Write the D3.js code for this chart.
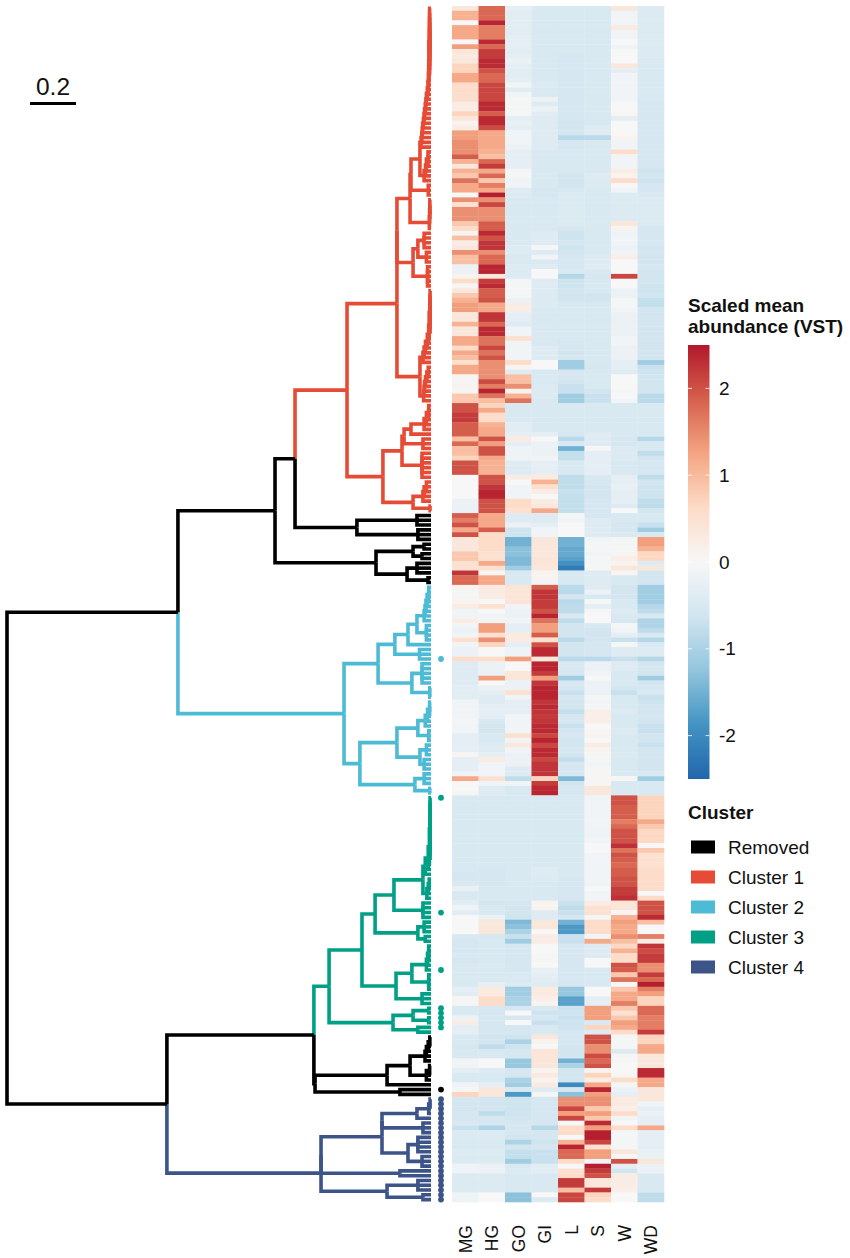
<!DOCTYPE html>
<html><head><meta charset="utf-8">
<script src="https://cdn.jsdelivr.net/npm/d3@7"></script>
<style>html,body{margin:0;padding:0;background:#fff}svg{display:block}text{font-family:"Liberation Sans",Arial,sans-serif;fill:#111}</style>
</head><body><svg id="c" width="850" height="1258"></svg>
<script>
const columns=["MG","HG","GO","GI","L","S","W","WD"];
const MG=[
.35,1.1,1.1,0,1.2,1.2,1.2,0,1.3,.35,
.3,.35,.7,.7,1.2,1.2,.6,.6,.55,.55,
.25,.25,.7,.35,.1,.25,1.3,1.3,1.45,1.45,
1.45,1.9,1.1,.35,1.1,.85,1.7,1.2,1.2,0,
1.45,.5,1.45,1.45,1.45,.85,.6,.1,.95,.25,
.35,1.45,.95,.95,-.2,-.2,.1,.6,.05,.35,
.85,1.1,1.3,1.3,.35,.35,1.1,.35,.35,1.2,
1.2,.6,1.2,.95,.5,1.2,1.2,.05,.05,.1,
.05,.85,.85,2,2,2.2,2.2,1.9,1.9,1.9,
.95,1.8,.95,.95,.7,2,2,2,0,0,
0,0,0,-.2,-.2,-.2,1.9,1.6,2,1.2,
2,.35,.35,.35,.85,.85,.5,.5,2.25,1.8,
1.8,.1,-.05,-.05,.1,.25,-.1,-.1,.25,-.1,
-.2,-.1,.5,-.1,-.2,-.2,.6,-.4,-.4,-.4,
-.4,-.4,-.35,-.35,-.35,-.1,-.1,-.1,-.1,-.05,
-.1,-.1,-.3,-.3,-.3,-.3,.05,-.3,-.3,-.3,
-.1,1.2,0,0,.05,-.5,-.5,-.5,-.5,-.5,
-.5,-.5,-.5,-.5,-.5,-.5,-.5,-.5,-.5,-.5,
-.5,-.55,-.55,-.5,-.25,-.5,-.5,-.35,-.15,-.35,
0,0,0,0,-.5,-.55,-.55,-.55,-.5,-.55,
-.5,-.5,-.5,-.5,-.5,-.3,-.35,.05,.05,-.5,
-.5,-.2,.25,-.3,-.3,-.5,-.5,-.55,-.5,-.5,
-.1,-.1,-.3,-.5,-.5,-.1,-.05,.7,-.55,-.6,
-.6,-.55,-.55,-.5,-.7,-.45,-.45,-.5,-.5,-.45,
-.45,-.45,-.15,-.15,-.45,-.45,-.45,-.45,-.15,-.15];
const HG=[
1.8,1.8,1.8,2.4,1.6,1.6,1.6,2.35,1.8,2.2,
2.2,2.35,2.35,2,1.8,1.8,2.1,2.1,2.1,2.1,
2.35,2.35,1.9,2.35,2.35,2.05,1.2,1.2,1.2,1.2,
1.1,.95,1.8,2.2,1.2,1.8,.85,1.6,1.2,2.45,
1.45,2.1,1.45,1.45,1.45,1.9,1.9,2.35,2,2.25,
2.25,1.45,1.8,1.8,2.4,2.4,.35,2.2,2.35,1.9,
1.9,2,1.2,1.2,2.25,2.25,1.8,2.35,2.35,1.7,
1.7,2.1,1.7,2,1.45,1.45,1.45,1.45,2.05,1.6,
2.4,1.7,.95,.7,1.2,.6,.6,1.1,1.2,1.2,
2,1.3,2,2,1.2,1.1,1.1,1.1,2,2,
2.25,2.4,2.4,2,2,2,1.2,1.2,1.2,1.9,
.6,.6,.6,.6,.5,.5,1.2,.5,.05,1.2,
1.2,.3,.25,.25,0,.5,0,-.1,-.1,1.3,
1.3,.5,1.45,.7,0,0,.6,-.2,-.2,-.2,
1.3,0,-.2,-.3,-.4,-.4,-.3,-.3,-.3,-.5,
-.6,-.6,-.5,-.5,-.4,-.4,-.3,.3,-.1,-.1,
-.1,.5,-.1,-.4,-.4,-.5,-.5,-.5,-.5,-.5,
-.5,-.5,-.5,-.5,-.5,-.5,-.5,-.5,-.5,-.5,
-.55,-.55,-.55,-.55,-.5,-.5,-.5,-.6,-.5,-.5,
-.2,.35,.35,.35,-.55,-.5,-.5,-.5,-.5,-.5,
-.45,-.5,-.5,-.5,-.3,.3,.3,.6,.6,-.55,
-.55,-.55,-.55,-.55,-.55,-.6,-.6,-.8,-.5,-.5,
0,0,-.4,-.5,-.5,-.3,.35,.35,-.6,-.6,
-.6,-.8,-.55,-.55,-.95,-.45,-.45,-.5,-.5,-.45,
-.45,-.45,-.2,-.2,-.45,-.45,-.45,-.45,0,0];
const GO=[
-.3,-.35,-.35,-.35,-.35,-.35,-.3,-.3,-.3,-.35,
-.3,-.2,-.3,-.35,-.35,-.3,-.1,-.35,-.1,-.05,
-.05,-.05,-.05,-.3,-.25,-.3,-.1,-.1,-.1,-.2,
-.3,-.3,-.3,-.3,-.05,-.05,-.15,-.1,-.4,-.45,
-.5,-.5,-.5,-.5,-.5,-.5,-.5,-.5,-.5,-.5,
-.4,-.4,-.5,-.5,-.45,-.45,-.45,-.05,-.05,-.05,
-.05,-.2,.25,.25,-.3,-.3,-.4,-.1,-.1,.5,
-.1,-.1,-.1,-.1,.6,.1,-.4,.95,.95,1.45,
.1,1.1,1.7,-.5,-.5,-.5,-.5,-.35,-.35,-.3,
.3,-.3,-.15,-.15,-.15,-.4,-.4,-.4,.25,0,
-.1,-.1,-.1,.6,.6,.5,-.4,-.4,-.2,-.65,
-.65,-1.5,-1.5,-1.3,-1.3,-1.4,-1.4,-1.1,-.5,-.5,
-.5,.4,.4,.4,.4,-.1,-.2,-.2,-.1,-.3,
-.3,.3,.3,-.3,-.15,-.15,1.3,0,0,.35,
.35,-.2,-.2,.5,-.1,-.3,-.3,-.3,-.1,-.1,
-.1,-.1,.5,-.1,.35,-.1,-.2,-.2,-.2,-.4,
-.4,-.8,-.1,-.5,-.5,-.5,-.5,-.5,-.5,-.5,
-.5,-.5,-.5,-.5,-.5,-.5,-.5,-.5,-.5,-.5,
-.5,-.5,-.5,-.5,-.5,-.5,-.5,-.55,-.6,-.6,
-.65,-1.4,-1.3,-1,-.7,-1.1,-.55,-.55,-.55,-.55,
-.55,-.55,-.5,-.5,-.45,-1.1,-1.1,-1,-1,-.55,
0,-.55,0,-.55,-.55,-.65,-1,-.65,-.55,-.55,
-1.2,-1.2,-.55,-.55,-1,-1.1,-.5,-1.8,-.65,-.65,
-.65,-.65,-.6,-.55,-.55,-.55,-.6,-1,-.6,-.75,
-.75,-1.1,-.5,-.45,-.5,-.5,-.5,-.5,-1.3,-1.3];
const GI=[
-.5,-.5,-.5,-.5,-.5,-.5,-.5,-.5,-.5,-.5,
-.5,-.5,-.5,-.5,-.5,-.5,-.45,-.5,-.5,-.2,
-.4,-.2,-.35,-.4,-.4,-.4,-.4,-.4,-.4,-.45,
-.5,-.5,-.5,-.5,-.5,-.5,-.5,-.5,-.55,-.55,
-.5,-.5,-.5,-.5,-.5,-.5,-.5,-.4,-.4,-.4,
-.05,-.4,-.1,-.5,-.4,0,0,-.4,-.4,-.4,
-.45,-.45,-.45,-.5,-.5,-.5,-.5,-.5,-.5,-.5,
-.5,-.4,-.4,-.4,0,0,-.5,-.5,-.5,-.45,
-.45,-.45,-.5,-.5,-.5,-.5,-.5,-.5,-.5,-.3,
0,-.2,-.2,-.2,-.1,-.3,-.3,-.3,.3,1.1,
.55,.25,0,.25,.35,1.2,-.4,-.4,-.3,-.1,
-.1,.35,.35,.35,.35,.4,.4,.35,.1,.1,
-.1,1.9,2.25,2.25,2.2,2.2,2,2.4,1.7,1.3,
1.3,1.9,.5,2,2.35,2.35,.35,2.4,2.4,2.2,
1.3,2.25,2.4,2.4,2.4,2.25,2.35,2.25,2.2,2.25,
2.35,2.35,2.1,2.4,2.1,2.35,2.35,2.1,2.25,2.25,
2.25,.7,2.2,2.35,2.4,-.5,-.5,-.5,-.5,-.5,
-.5,-.5,-.5,-.5,-.5,-.5,-.5,-.5,-.5,-.5,
-.4,-.4,-.45,-.5,-.5,-.5,-.5,.1,.1,-.4,
-.4,.35,.35,0,.25,.25,0,0,.05,.05,
0,-.25,-.3,-.35,-.4,.3,.3,.2,.1,-.5,
-.65,-.55,-.7,-.5,-.5,.35,.1,0,.4,.4,
.4,.35,.1,.3,.1,.3,-.4,-.05,-.55,-.55,
-.55,-.55,-.55,-.55,-.9,-.55,-.55,-.65,-.55,-.7,
-.7,-.7,-.35,-.35,-.5,-.5,-.5,-.5,0,-.45];
const L=[
-.5,-.5,-.5,-.5,-.5,-.5,-.5,-.5,-.5,-.5,
-.55,-.55,-.55,-.55,-.55,-.55,-.55,-.55,-.55,-.55,
-.55,-.55,-.55,-.55,-.6,-.6,-.6,-.85,-.55,-.55,
-.5,-.5,-.5,-.5,-.5,-.6,-.6,-.6,-.5,-.45,
-.45,-.45,-.45,-.45,-.45,-.45,-.55,-.65,-.65,-.55,
-.65,-.6,-.55,-.55,-.55,-.5,-.9,-.65,-.65,-.6,
-.6,-.6,-.5,-.5,-.5,-.5,-.5,-.5,-.5,-.5,
-.55,-.55,-.6,-.55,-1.1,-1.1,-.55,-.55,-.6,-.7,
-.7,-1.1,-1.1,-.5,-.5,-.5,-.5,-.5,-.5,-.55,
-.85,-.5,-1.5,-.75,-.75,-.5,-.5,-.5,-.8,-.8,
-.8,-.7,-.75,-.75,-.75,-.75,-.05,-.1,0,0,
0,-1.5,-1.5,-1.6,-1.6,-1.7,-1.9,-2.2,-.5,-.5,
-.5,-.85,-.85,-.6,-.85,-.8,-.8,-.5,-.8,-.6,
-.6,-.6,-.85,-.6,-.6,-.6,-.85,-.5,-.5,-.55,
-1.1,-.55,-.55,-.7,-.55,-.6,-.6,-.75,-.55,-.55,
-.7,-.6,-.55,-.6,-.6,-.55,-.6,-.75,-.55,-.55,
-.55,-1.4,-.6,-.55,-.55,-.5,-.5,-.5,-.5,-.5,
-.5,-.5,-.5,-.5,-.5,-.5,-.5,-.5,-.5,-.5,
-.5,-.5,-.55,-.55,-.55,-.55,-.55,-.7,-.8,-.7,
-.55,-1.5,-1.8,-1.8,-.7,-.7,-.55,-.55,-.55,-.55,
-.55,-.55,-.55,-.55,-.55,-1.2,-1.2,-1.7,-1.7,-.65,
-.65,-.7,-.65,-.65,-.55,-.55,-.55,-.6,-.6,-.6,
-1.5,-1,-.6,-.6,-.6,-2,-.55,-1.3,1.45,1.45,
2.1,1.3,2.1,0,.6,.6,0,1.1,2.4,1.8,
1.8,.6,0,.5,.6,2.2,2.2,.95,2.1,2.1];
const S=[
-.5,-.5,-.5,-.5,-.5,-.5,-.5,-.5,-.5,-.5,
-.5,-.5,-.5,-.5,-.5,-.5,-.5,-.5,-.5,-.5,
-.5,-.5,-.5,-.5,-.5,-.4,-.4,-.85,-.5,-.5,
-.5,-.5,-.5,-.5,-.5,-.4,-.45,-.45,-.5,-.5,
-.5,-.5,-.5,-.5,-.5,-.5,-.5,-.5,-.5,-.5,
-.5,-.5,-.4,-.4,-.35,-.5,-.55,-.5,-.5,-.5,
-.6,-.6,-.5,-.5,-.5,-.5,-.5,-.5,-.5,-.5,
-.5,-.5,-.5,-.5,-.5,-.55,-.5,-.5,-.5,-.5,
-.6,-.7,-.7,-.5,-.5,-.5,-.5,-.5,-.5,-.4,
-.4,-.4,-.05,-.3,-.3,-.3,-.3,-.3,-.5,-.55,
-.6,-.6,-.6,-.55,-.55,-.55,-.55,-.4,-.4,-.4,
-.4,-.1,-.05,-.05,-.1,-.05,-.05,-.05,-.4,-.4,
-.4,-.4,-.2,-.5,-.05,-.3,-.05,0,0,-.5,
-.6,-.6,-.6,-.55,-.55,-.55,-.85,-.2,-.2,-.1,
0,-.2,-.2,-.2,-.05,-.1,-.05,.2,.2,.2,
0,.05,.1,0,.25,.1,.05,-.05,-.1,-.05,
.05,.05,.05,.35,.35,-.1,-.1,-.1,-.1,-.1,
-.1,-.1,-.15,-.15,-.1,0,0,-.1,-.1,-.1,
-.1,-.1,-.1,-.15,0,-.1,-.1,.25,.5,.5,
-.05,.6,.6,.6,-.1,1.2,-.4,-.4,-.4,0,
0,-.5,-.5,-.5,-.5,0,0,-.3,-.3,1.3,
1.3,1.3,-.5,.7,-.4,2,2,1.45,1.45,2.05,
1.8,2,.1,.7,.25,1.2,2.4,1.3,1.45,1.45,
.85,1.3,.85,2.35,1.3,2.45,2.45,2.1,.5,1.3,
1.3,-.1,2.45,2.2,2,.35,.35,2.2,.7,.6];
const W=[
.35,-.1,-.1,-.1,.3,-.1,-.1,0,-.1,0,
0,0,.35,-.3,-.1,-.1,-.1,-.1,-.1,-.1,
0,0,.05,-.3,0,0,0,.1,-.1,-.1,
.6,-.1,-.1,-.1,.25,.1,.6,0,-.1,-.45,
-.45,-.45,-.45,-.45,-.45,.35,.1,-.15,-.1,-.1,
-.2,-.1,.2,0,0,0,2.1,0,0,-.2,
-.2,-.05,-.05,-.1,-.2,-.2,-.2,-.2,-.2,-.1,
-.1,-.2,-.2,-.2,-.3,-.3,-.4,0,0,0,
-.05,0,-.1,-.5,-.5,-.5,-.5,-.5,-.5,-.5,
-.55,-.55,-.45,-.45,-.45,-.5,-.5,-.5,-.3,-.3,
-.25,-.3,-.3,-.3,-.4,0,-.5,-.5,-.55,-.55,
-.5,-.05,-.05,-.05,.05,.2,.1,.35,.05,-.5,
-.5,-.6,-.6,-.6,-.5,-.5,-.4,-.5,-.55,-.05,
-.1,-.3,-.7,-.05,-.4,-.4,-.7,-.4,-.4,-.5,
-.5,-.5,-.6,-.7,-.5,-.5,-.5,-.45,-.5,-.5,
-.5,-.45,-.5,-.5,-.5,-.5,-.45,-.5,-.5,-.5,
-.5,.05,-.5,-.5,-.5,2,2,1.9,1.9,1.9,
1.6,1.8,2,2,2,2.3,1.7,2,1.9,1.8,
1.9,1.9,2,2,2.2,2.2,2.3,.4,.4,.05,
1.1,1.3,1.2,1.2,1.45,.95,.65,1.1,.6,.6,
2,1.9,.85,1.7,0,.85,1.2,1.2,1.6,.85,
.5,.85,1.3,1.2,.6,-.05,-.05,-.05,-.45,-.05,
-.05,0,0,.05,.6,-.05,-.2,-.3,.3,.3,
.2,.6,-.1,0,.6,-.05,-.05,-.05,-.05,.35,
-.05,2,-.3,-.6,.25,.25,.25,.2,0,0];
const WD=[
-.45,-.45,-.45,-.45,-.45,-.45,-.45,-.45,-.45,-.45,
-.45,-.5,-.5,-.5,-.5,-.5,-.5,-.5,-.5,-.5,
-.55,-.55,-.55,-.55,-.55,-.55,-.55,-.55,-.55,-.55,
-.55,-.55,-.55,-.55,-.65,-.6,-.65,-.55,-.55,-.5,
-.45,-.45,-.45,-.45,-.45,-.45,-.55,-.55,-.55,-.55,
-.6,-.55,-.6,-.6,-.55,-.6,-.6,-.6,-.65,-.65,
-.6,-.75,-.75,-.6,-.6,-.6,-.6,-.6,-.6,-.6,
-.6,-.6,-.6,-.6,-1.1,-.7,-.65,-.6,-.6,-.6,
-.6,-.85,-.85,-.5,-.5,-.5,-.5,-.5,-.5,-.5,
-.9,-.5,-.5,-.8,-.6,-.55,-.55,-.55,-.8,-.6,
-.65,-.65,-.65,-.8,-.8,-.6,-.5,-.5,-.7,-1.1,
-.5,1.3,1.3,1.1,.65,.65,-.4,.35,-.6,-.6,
-.6,-1.1,-1.1,-1.1,-1.1,-.9,-.8,-.5,-.95,-.95,
-.8,-.5,-.9,-.5,-.4,-.4,-.9,-.6,-.55,-.6,
-1.1,-.6,-.55,-.5,-.7,-.65,-.6,-.6,-.55,-.6,
-.7,-.7,-.6,-.6,-.7,-.6,-.6,-.6,-.6,-.6,
-.5,-1.1,-.5,-.5,-.5,.7,.7,.7,.7,.7,
1.2,.85,.65,.65,.65,0,.85,.5,.5,.5,
.6,.6,.6,.6,.6,0,.6,2,2,2,
2.35,.95,0,0,1.6,.25,2.25,2.05,2.2,2.2,
1.45,1.45,2.2,1.8,2.45,1.6,1.3,.7,.7,1.8,
1.8,1.6,1.6,1.6,2.2,.7,.7,1.2,1.2,.35,
.35,.35,2.35,2.35,1.2,1.2,.35,.35,.35,-.1,
-.3,-.2,-.3,-.3,1.2,-.3,-.3,-.3,-.3,-.25,
-.25,.35,-.2,-.2,-.5,-.5,-.5,-.5,-.8,-.8];
const valuesByColumn=[MG,HG,GO,GI,L,S,W,WD];
const legendNames=["Removed","Cluster 1","Cluster 2","Cluster 3","Cluster 4"];
const legendColours=["#000000","#E64B35","#4DBBD5","#00A087","#3C5488"];
const clusterRuns=[[1,106],[0,15],[2,44],[3,50],[0,13],[4,22]];
const dotRows=[136,165,189,201,209,210,211,212,213,226,228,229,230,231,232,233,234,235,236,237,238,239,240,241,242,243,244,245,246,247,248,249];
const colourTicks=[-2,-1,0,1,2];

// Tree notation: [height, ...children]; a numeric child n stands for n leaves.
function comb(n,hs){let node=[hs[0],n];for(const h of hs.slice(1))node=[h,node,1];return node;}
const red1=[.148,
  [.148,
    [.091,
      [.087,[.048,comb(15,[.006,.009,.01,.011,.013,.016,.02,.022,.025,.028,.03,.033,.036,.038,.04,.043]),comb(4,[.013,.02,.024,.03])],[.012,3]],
      comb(5,[.005,.006,.007])],
    [.078,[.057,[.03,2,2],[.02,3]],[.015,5]]],
  [.048,comb(10,[.004,.008,.01,.016,.024,.03,.035]),comb(3,[.012,.018,.024,.028,.03,.032])]];
const red2=[.209,
  [.126,[.117,[.087,comb(4,[.01,.02,.03]),1],[.035,3]],[.039,6]],
  [.078,comb(3,[.02,.03,.035]),[.004,2]]];
const removed1=[.591,[.365,red1,red2],[.322,[.061,3],[.057,3]]];
const removed2=[.239,[.078,[.03,2],[.039,2]],[.104,[.061,3],[.013,2]]];
const blue=[.378,
  [.23,[.157,[.1,[.061,comb(4,[.01,.017,.022,.026,.03]),[.02,4]],1],[.05,3]],[.083,[.039,5],[.005,3]]],
  [.309,[.148,[.057,comb(4,[.006,.015,.025]),[.01,3]],[.048,[.02,3],[.03,3]]],[.07,[.03,3],[.005,2]]]];
const teal=[.443,
  [.3,
    [.243,[.161,[.035,comb(14,[.004,.007,.012,.025]),comb(3,[.008,.012,.018])],[.035,4]],[.057,[.03,3],[.025,2]]],
    [.152,[.083,comb(4,[.01,.015,.02]),[.01,4]],[.039,3]]],
  [.165,[.078,[.01,2],[.01,2]],[.057,2]]];
const removed3=[.504,[.191,[.091,comb(3,[.005,.012,.02,.026]),comb(3,[.006,.02])],1],[.135,2]];
const navy=[.478,
  [.478,[.213,[.213,comb(3,[.004,.01,.061]),[.035,3]],[.1,[.057,4],[.039,3]]],[.135,2]],
  [.191,[.057,3],[.035,2]]];
const tree=[1.843,
  [1.1,[.678,removed1,removed2],blue],
  [1.148,[.509,teal,removed3],navy]];

const rowCount=d3.sum(clusterRuns,d=>d[1]);
valuesByColumn.forEach((c,i)=>{if(c.length!==rowCount)throw new Error(columns[i]+" has "+c.length);});
const leafCluster=clusterRuns.flatMap(([c,n])=>d3.range(n).map(()=>c));

const svg=d3.select("#c");
const rowBand=d3.scaleBand().domain(d3.range(rowCount)).range([6,1202]);
const colBand=d3.scaleBand().domain(columns).range([452,664]);
const colour=d3.scaleLinear()
  .domain(d3.range(9).map(i=>-2.5+i*5/8))
  .range(["#2166ac","#4393c3","#92c5de","#d1e5f0","#f7f7f7","#fddbc7","#f4a582","#d6604d","#b2182b"]);

// heatmap
const cols=svg.append("g").selectAll("g").data(columns).join("g");
cols.each(function(name,ci){
  d3.select(this).selectAll("rect").data(valuesByColumn[ci]).join("rect")
    .attr("x",colBand(name)).attr("width",colBand.bandwidth()+.3)
    .attr("y",(d,i)=>rowBand(i)).attr("height",rowBand.bandwidth()+.3)
    .attr("fill",d=>colour(d));
});
svg.append("g").selectAll("text").data(columns).join("text")
  .attr("transform",d=>`translate(${colBand(d)+colBand.bandwidth()/2+6.5},1225) rotate(-90)`)
  .attr("text-anchor","end").attr("font-size",17.5).text(d=>d);

// dendrogram
const root=d3.hierarchy(tree,d=>{
  if(typeof d==="number"||!Array.isArray(d))return null;
  return d.slice(1).flatMap(c=>typeof c==="number"?d3.range(c).map(()=>({leaf:true})):[c]);
});
const hx=d3.scaleLinear().domain([1.843,0]).range([7,431]);
let idx=0;
root.eachAfter(n=>{
  if(!n.children){n.row=idx;n.cl=leafCluster[idx];n.py=rowBand(idx)+rowBand.bandwidth()/2;idx++;n.px=hx(0);}
  else{
    n.px=hx(n.data[0]);
    n.py=(n.children[0].py+n.children[n.children.length-1].py)/2;
    const s=new Set(n.children.map(c=>c.cl));
    n.cl=s.size===1?[...s][0]:0;
  }
});
const links=root.links().sort((a,b)=>(a.target.cl===0?1:0)-(b.target.cl===0?1:0));
svg.append("g").attr("fill","none").attr("stroke-width",3.6).attr("stroke-linejoin","miter").attr("stroke-linecap","butt")
  .selectAll("path").data(links).join("path")
  .attr("stroke",d=>legendColours[d.target.cl])
  .attr("d",d=>`M${d.source.px},${d.source.py}V${d.target.py}H${d.target.px}`);

// dots
svg.append("g").selectAll("circle").data(dotRows).join("circle")
  .attr("cx",441).attr("cy",d=>rowBand(d)+rowBand.bandwidth()/2).attr("r",2.9)
  .attr("fill",d=>legendColours[leafCluster[d]]);

// scale bar
const barScale=d3.scaleLinear().domain([0,.2]).range([30,76]);
svg.append("line").attr("x1",barScale(0)).attr("x2",barScale(.2)).attr("y1",103.5).attr("y2",103.5).attr("stroke","#000").attr("stroke-width",3);
svg.append("text").attr("x",53).attr("y",95).attr("text-anchor","middle").attr("font-size",24.5).text("0.2");

// colour legend
const lg=svg.append("defs").append("linearGradient").attr("id","lg").attr("x1",0).attr("x2",0).attr("y1",1).attr("y2",0);
colour.domain().forEach(v=>lg.append("stop").attr("offset",(v+2.5)/5).attr("stop-color",colour(v)));
const ly=d3.scaleLinear().domain([-2.5,2.5]).range([779,345]);
svg.append("rect").attr("x",688).attr("y",345).attr("width",21.5).attr("height",434).attr("fill","url(#lg)");
svg.append("g").selectAll("path").data(colourTicks).join("path")
  .attr("d",d=>`M688,${ly(d)}h4M705.5,${ly(d)}h4`).attr("stroke","#fff").attr("stroke-width",.8);
svg.append("g").selectAll("text").data(colourTicks).join("text")
  .attr("x",719).attr("y",d=>ly(d)+6.5).attr("font-size",19).text(d=>String(d));
svg.append("text").attr("x",688).attr("y",312).attr("font-size",19).attr("font-weight",700).text("Scaled mean");
svg.append("text").attr("x",688).attr("y",333).attr("font-size",19).attr("font-weight",700).text("abundance (VST)");

// cluster legend
svg.append("text").attr("x",688).attr("y",819).attr("font-size",19).attr("font-weight",700).text("Cluster");
const legY=d3.scalePoint().domain(legendNames).range([847,967]);
svg.append("g").selectAll("rect").data(legendNames).join("rect")
  .attr("x",691).attr("width",24).attr("y",d=>legY(d)-6.5).attr("height",13)
  .attr("fill",(d,i)=>legendColours[i]);
svg.append("g").selectAll("text").data(legendNames).join("text")
  .attr("x",728).attr("y",d=>legY(d)+7).attr("font-size",19).text(d=>d);
</script></body></html>
